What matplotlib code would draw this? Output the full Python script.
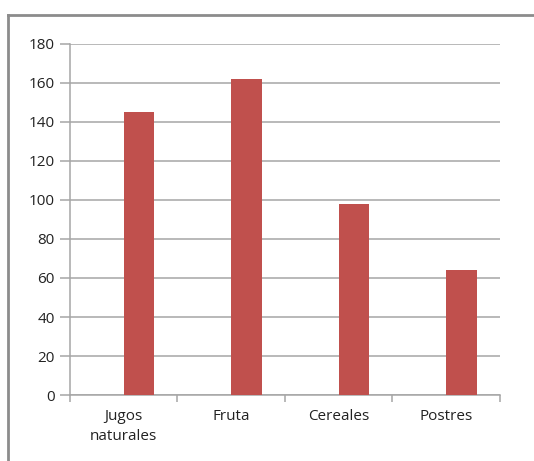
import numpy as np
import matplotlib.pyplot as plt
from matplotlib.lines import Line2D

categories = ['Jugos\nnaturales', 'Fruta', 'Cereales', 'Postres']
values = [145, 162, 98, 64]
y_ticks = [0, 20, 40, 60, 80, 100, 120, 140, 160, 180]

plt.rcParams['font.family'] = ['Open Sans', 'DejaVu Sans']

fig = plt.figure(figsize=(5.34, 4.61), dpi=100)
fig.patch.set_facecolor('white')
ax = fig.add_axes([0.131, 0.143, 0.805, 0.762])

n = len(categories)
x = np.arange(n)
# bar sits in the right half of each category slot
ax.bar(x + 0.5, values, width=0.286, align='edge', color='#C0504D', zorder=3)

ax.set_xlim(0, n)
ax.set_ylim(0, 180)
ax.set_yticks(y_ticks)
ax.set_yticklabels([str(v) for v in y_ticks], fontsize=11, color='#222222')
ax.yaxis.grid(True, color='#a6a6a6', lw=1.1, zorder=0)
ax.tick_params(axis='y', length=7, width=1.1, color='#a6a6a6', pad=4)

ax.set_xticks(np.arange(n + 1))
ax.set_xticklabels([])
ax.set_xticks(x + 0.5, minor=True)
labels = ax.set_xticklabels(categories, minor=True, fontsize=11, color='#222222')
for t in labels:
    t.set_linespacing(1.45)
ax.tick_params(axis='x', which='major', length=5, width=1.1, color='#a6a6a6', direction='out')
ax.tick_params(axis='x', which='minor', length=0, pad=10)

for s in ['top', 'right']:
    ax.spines[s].set_visible(False)
ax.spines['left'].set_color('#a6a6a6')
ax.spines['bottom'].set_color('#a6a6a6')
ax.spines['left'].set_linewidth(1.1)
ax.spines['bottom'].set_linewidth(1.1)

# chart area border (top and left edges)
W, H = 534, 461
fig.add_artist(Line2D([8 / W, 1], [1 - 15 / H, 1 - 15 / H], color='#8c8c8c', lw=2.0))
fig.add_artist(Line2D([8 / W, 8 / W], [0, 1 - 15 / H], color='#8c8c8c', lw=2.0))

fig.savefig('out.png', dpi=100, facecolor='white')
